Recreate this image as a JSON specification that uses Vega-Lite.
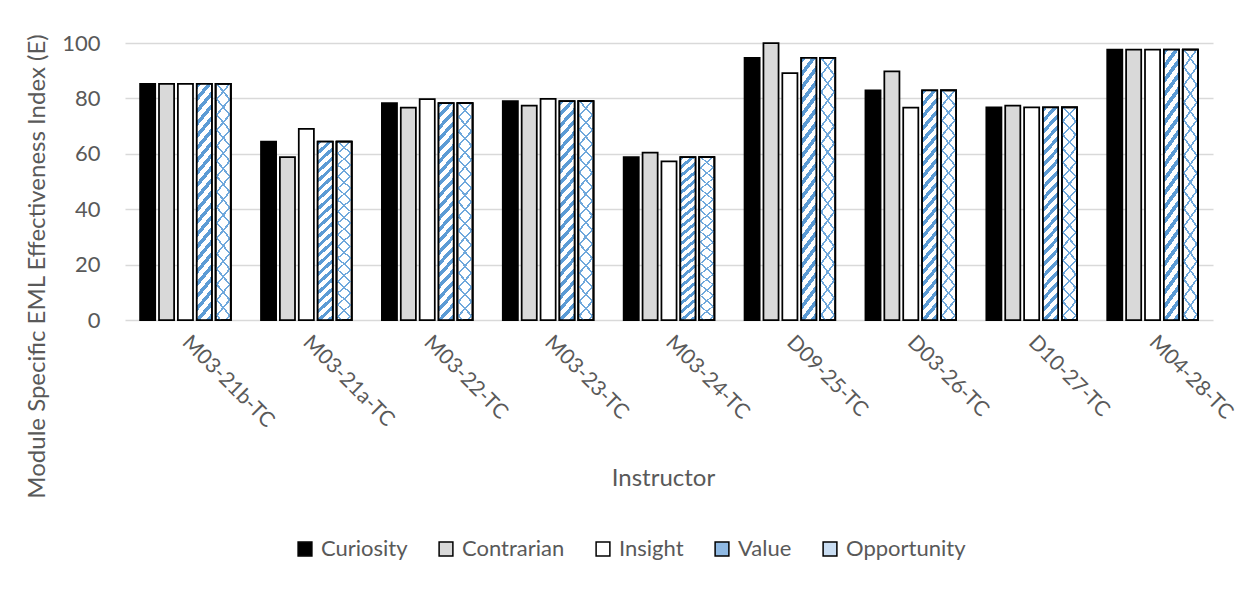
{
  "$schema": "https://vega.github.io/schema/vega-lite/v6.json",
  "autosize": {"type": "none"},
  "padding": {"left": 125, "top": 43, "right": 36, "bottom": 270},
  "width": 1088,
  "height": 277,
  "background": "white",
  "config": {"font": "Lato", "view": {"stroke": null}},
  "data": {"values": [
    {"Instructor": "M03-21b-TC", "Trait": "Curiosity", "E": 85.2},
    {"Instructor": "M03-21b-TC", "Trait": "Contrarian", "E": 85.2},
    {"Instructor": "M03-21b-TC", "Trait": "Insight", "E": 85.2},
    {"Instructor": "M03-21b-TC", "Trait": "Value", "E": 85.2},
    {"Instructor": "M03-21b-TC", "Trait": "Opportunity", "E": 85.2},
    {"Instructor": "M03-21a-TC", "Trait": "Curiosity", "E": 64.4},
    {"Instructor": "M03-21a-TC", "Trait": "Contrarian", "E": 58.8},
    {"Instructor": "M03-21a-TC", "Trait": "Insight", "E": 69.0},
    {"Instructor": "M03-21a-TC", "Trait": "Value", "E": 64.4},
    {"Instructor": "M03-21a-TC", "Trait": "Opportunity", "E": 64.4},
    {"Instructor": "M03-22-TC", "Trait": "Curiosity", "E": 78.3},
    {"Instructor": "M03-22-TC", "Trait": "Contrarian", "E": 76.7},
    {"Instructor": "M03-22-TC", "Trait": "Insight", "E": 79.7},
    {"Instructor": "M03-22-TC", "Trait": "Value", "E": 78.3},
    {"Instructor": "M03-22-TC", "Trait": "Opportunity", "E": 78.3},
    {"Instructor": "M03-23-TC", "Trait": "Curiosity", "E": 79.0},
    {"Instructor": "M03-23-TC", "Trait": "Contrarian", "E": 77.4},
    {"Instructor": "M03-23-TC", "Trait": "Insight", "E": 79.8},
    {"Instructor": "M03-23-TC", "Trait": "Value", "E": 79.0},
    {"Instructor": "M03-23-TC", "Trait": "Opportunity", "E": 79.0},
    {"Instructor": "M03-24-TC", "Trait": "Curiosity", "E": 58.8},
    {"Instructor": "M03-24-TC", "Trait": "Contrarian", "E": 60.4},
    {"Instructor": "M03-24-TC", "Trait": "Insight", "E": 57.3},
    {"Instructor": "M03-24-TC", "Trait": "Value", "E": 58.8},
    {"Instructor": "M03-24-TC", "Trait": "Opportunity", "E": 58.8},
    {"Instructor": "D09-25-TC", "Trait": "Curiosity", "E": 94.6},
    {"Instructor": "D09-25-TC", "Trait": "Contrarian", "E": 100},
    {"Instructor": "D09-25-TC", "Trait": "Insight", "E": 89.1},
    {"Instructor": "D09-25-TC", "Trait": "Value", "E": 94.6},
    {"Instructor": "D09-25-TC", "Trait": "Opportunity", "E": 94.6},
    {"Instructor": "D03-26-TC", "Trait": "Curiosity", "E": 82.9},
    {"Instructor": "D03-26-TC", "Trait": "Contrarian", "E": 89.8},
    {"Instructor": "D03-26-TC", "Trait": "Insight", "E": 76.7},
    {"Instructor": "D03-26-TC", "Trait": "Value", "E": 82.9},
    {"Instructor": "D03-26-TC", "Trait": "Opportunity", "E": 82.9},
    {"Instructor": "D10-27-TC", "Trait": "Curiosity", "E": 76.8},
    {"Instructor": "D10-27-TC", "Trait": "Contrarian", "E": 77.4},
    {"Instructor": "D10-27-TC", "Trait": "Insight", "E": 76.8},
    {"Instructor": "D10-27-TC", "Trait": "Value", "E": 76.8},
    {"Instructor": "D10-27-TC", "Trait": "Opportunity", "E": 76.8},
    {"Instructor": "M04-28-TC", "Trait": "Curiosity", "E": 97.6},
    {"Instructor": "M04-28-TC", "Trait": "Contrarian", "E": 97.6},
    {"Instructor": "M04-28-TC", "Trait": "Insight", "E": 97.6},
    {"Instructor": "M04-28-TC", "Trait": "Value", "E": 97.6},
    {"Instructor": "M04-28-TC", "Trait": "Opportunity", "E": 97.6}
  ]},
  "encoding": {
    "x": {
      "field": "Instructor", "type": "nominal",
      "sort": ["M03-21b-TC","M03-21a-TC","M03-22-TC","M03-23-TC","M03-24-TC","D09-25-TC","D03-26-TC","D10-27-TC","M04-28-TC"],
      "scale": {"paddingInner": 0.25, "paddingOuter": 0.125},
      "axis": {
        "title": "Instructor", "titleFontSize": 24, "titleFontWeight": "normal", "titleColor": "#595959",
        "titleX": 538, "titleY": 158, "titleAlign": "center", "titleBaseline": "middle",
        "labelAngle": 45, "labelAlign": "left", "labelBaseline": "middle", "labelPadding": 19,
        "labelFontSize": 21, "labelColor": "#595959", "ticks": false, "domain": false, "grid": false
      }
    },
    "xOffset": {
      "field": "Trait", "type": "nominal",
      "scale": {"domain": ["Curiosity","Contrarian","Insight","Value","Opportunity"], "paddingInner": 0.2, "paddingOuter": 0}
    },
    "y": {
      "field": "E", "type": "quantitative",
      "scale": {"domain": [0, 100], "nice": false},
      "axis": {
        "title": "Module Specific EML Effectiveness Index (E)", "titleFontSize": 24, "titleFontWeight": "normal", "titleColor": "#595959",
        "titleX": -88, "titleY": 223, "titleAngle": -90, "titleAlign": "center", "titleBaseline": "middle",
        "values": [0, 20, 40, 60, 80, 100], "labelFontSize": 22, "labelColor": "#595959", "labelPadding": 25,
        "ticks": false, "domain": false, "grid": true, "gridColor": "#d9d9d9", "gridWidth": 1.5
      }
    }
  },
  "layer": [
    {
      "mark": {"type": "bar", "stroke": "black", "strokeWidth": 1.75, "opacity": 1, "fillOpacity": 1},
      "encoding": {
        "fill": {
          "field": "Trait", "type": "nominal",
          "scale": {
            "domain": ["Curiosity","Contrarian","Insight","Value","Opportunity"],
            "range": ["#000000", "#d9d9d9", "#ffffff", "#8fb9e3", "#c9ddf2"]
          },
          "legend": {
            "title": null, "orient": "none", "legendX": 169, "legendY": 495, "direction": "horizontal",
            "symbolType": "square", "symbolSize": 190, "symbolStrokeColor": "black", "symbolStrokeWidth": 1.5, "symbolOpacity": 1,
            "labelFontSize": 22, "labelColor": "#595959", "labelOffset": 5, "columnPadding": 27, "padding": 0
          }
        }
      }
    },
    {
      "transform": [{"filter": "datum.Trait === 'Value'"}],
      "mark": {"type": "bar", "stroke": "black", "strokeWidth": 1.75,
        "fill": {"gradient": "linear", "x1": 0, "y1": 0, "x2": 1, "y2": 13, "stops": [
                {"offset":0,"color":"#5b9bd5"},{"offset":0.0018,"color":"#5b9bd5"},{"offset":0.0018,"color":"#ffffff"},{"offset":0.004,"color":"#ffffff"},
                {"offset":0.004,"color":"#5b9bd5"},{"offset":0.0058,"color":"#5b9bd5"},{"offset":0.0058,"color":"#ffffff"},{"offset":0.008,"color":"#ffffff"},
                {"offset":0.008,"color":"#5b9bd5"},{"offset":0.0098,"color":"#5b9bd5"},{"offset":0.0098,"color":"#ffffff"},{"offset":0.012,"color":"#ffffff"},
                {"offset":0.012,"color":"#5b9bd5"},{"offset":0.0138,"color":"#5b9bd5"},{"offset":0.0138,"color":"#ffffff"},{"offset":0.016,"color":"#ffffff"},
                {"offset":0.016,"color":"#5b9bd5"},{"offset":0.0178,"color":"#5b9bd5"},{"offset":0.0178,"color":"#ffffff"},{"offset":0.02,"color":"#ffffff"},
                {"offset":0.02,"color":"#5b9bd5"},{"offset":0.0218,"color":"#5b9bd5"},{"offset":0.0218,"color":"#ffffff"},{"offset":0.024,"color":"#ffffff"},
                {"offset":0.024,"color":"#5b9bd5"},{"offset":0.0258,"color":"#5b9bd5"},{"offset":0.0258,"color":"#ffffff"},{"offset":0.028,"color":"#ffffff"},
                {"offset":0.028,"color":"#5b9bd5"},{"offset":0.0298,"color":"#5b9bd5"},{"offset":0.0298,"color":"#ffffff"},{"offset":0.032,"color":"#ffffff"},
                {"offset":0.032,"color":"#5b9bd5"},{"offset":0.0338,"color":"#5b9bd5"},{"offset":0.0338,"color":"#ffffff"},{"offset":0.036,"color":"#ffffff"},
                {"offset":0.036,"color":"#5b9bd5"},{"offset":0.0378,"color":"#5b9bd5"},{"offset":0.0378,"color":"#ffffff"},{"offset":0.04,"color":"#ffffff"},
                {"offset":0.04,"color":"#5b9bd5"},{"offset":0.0418,"color":"#5b9bd5"},{"offset":0.0418,"color":"#ffffff"},{"offset":0.044,"color":"#ffffff"},
                {"offset":0.044,"color":"#5b9bd5"},{"offset":0.0458,"color":"#5b9bd5"},{"offset":0.0458,"color":"#ffffff"},{"offset":0.048,"color":"#ffffff"},
                {"offset":0.048,"color":"#5b9bd5"},{"offset":0.0498,"color":"#5b9bd5"},{"offset":0.0498,"color":"#ffffff"},{"offset":0.052,"color":"#ffffff"},
                {"offset":0.052,"color":"#5b9bd5"},{"offset":0.0538,"color":"#5b9bd5"},{"offset":0.0538,"color":"#ffffff"},{"offset":0.056,"color":"#ffffff"},
                {"offset":0.056,"color":"#5b9bd5"},{"offset":0.0578,"color":"#5b9bd5"},{"offset":0.0578,"color":"#ffffff"},{"offset":0.06,"color":"#ffffff"},
                {"offset":0.06,"color":"#5b9bd5"},{"offset":0.0618,"color":"#5b9bd5"},{"offset":0.0618,"color":"#ffffff"},{"offset":0.064,"color":"#ffffff"},
                {"offset":0.064,"color":"#5b9bd5"},{"offset":0.0658,"color":"#5b9bd5"},{"offset":0.0658,"color":"#ffffff"},{"offset":0.068,"color":"#ffffff"},
                {"offset":0.068,"color":"#5b9bd5"},{"offset":0.0698,"color":"#5b9bd5"},{"offset":0.0698,"color":"#ffffff"},{"offset":0.072,"color":"#ffffff"},
                {"offset":0.072,"color":"#5b9bd5"},{"offset":0.0738,"color":"#5b9bd5"},{"offset":0.0738,"color":"#ffffff"},{"offset":0.076,"color":"#ffffff"},
                {"offset":0.076,"color":"#5b9bd5"},{"offset":0.0778,"color":"#5b9bd5"},{"offset":0.0778,"color":"#ffffff"},{"offset":0.08,"color":"#ffffff"},
                {"offset":0.08,"color":"#5b9bd5"},{"offset":0.0818,"color":"#5b9bd5"},{"offset":0.0818,"color":"#ffffff"},{"offset":0.084,"color":"#ffffff"},
                {"offset":0.084,"color":"#5b9bd5"},{"offset":0.0858,"color":"#5b9bd5"},{"offset":0.0858,"color":"#ffffff"},{"offset":1,"color":"#ffffff"}
        ]}
      },
      "encoding": {}
    },
    {
      "transform": [{"filter": "datum.Trait === 'Opportunity'"}],
      "mark": {"type": "bar", "stroke": "black", "strokeWidth": 1.75,
        "fill": {"gradient": "linear", "x1": 0, "y1": 0, "x2": 1, "y2": 13, "stops": [
                {"offset":0,"color":"#6fa8dc"},{"offset":0.0008,"color":"#6fa8dc"},{"offset":0.0008,"color":"#ffffff"},{"offset":0.005,"color":"#ffffff"},
                {"offset":0.005,"color":"#6fa8dc"},{"offset":0.0058,"color":"#6fa8dc"},{"offset":0.0058,"color":"#ffffff"},{"offset":0.01,"color":"#ffffff"},
                {"offset":0.01,"color":"#6fa8dc"},{"offset":0.0108,"color":"#6fa8dc"},{"offset":0.0108,"color":"#ffffff"},{"offset":0.015,"color":"#ffffff"},
                {"offset":0.015,"color":"#6fa8dc"},{"offset":0.0158,"color":"#6fa8dc"},{"offset":0.0158,"color":"#ffffff"},{"offset":0.02,"color":"#ffffff"},
                {"offset":0.02,"color":"#6fa8dc"},{"offset":0.0208,"color":"#6fa8dc"},{"offset":0.0208,"color":"#ffffff"},{"offset":0.025,"color":"#ffffff"},
                {"offset":0.025,"color":"#6fa8dc"},{"offset":0.0258,"color":"#6fa8dc"},{"offset":0.0258,"color":"#ffffff"},{"offset":0.03,"color":"#ffffff"},
                {"offset":0.03,"color":"#6fa8dc"},{"offset":0.0308,"color":"#6fa8dc"},{"offset":0.0308,"color":"#ffffff"},{"offset":0.035,"color":"#ffffff"},
                {"offset":0.035,"color":"#6fa8dc"},{"offset":0.0358,"color":"#6fa8dc"},{"offset":0.0358,"color":"#ffffff"},{"offset":0.04,"color":"#ffffff"},
                {"offset":0.04,"color":"#6fa8dc"},{"offset":0.0408,"color":"#6fa8dc"},{"offset":0.0408,"color":"#ffffff"},{"offset":0.045,"color":"#ffffff"},
                {"offset":0.045,"color":"#6fa8dc"},{"offset":0.0458,"color":"#6fa8dc"},{"offset":0.0458,"color":"#ffffff"},{"offset":0.05,"color":"#ffffff"},
                {"offset":0.05,"color":"#6fa8dc"},{"offset":0.0508,"color":"#6fa8dc"},{"offset":0.0508,"color":"#ffffff"},{"offset":0.055,"color":"#ffffff"},
                {"offset":0.055,"color":"#6fa8dc"},{"offset":0.0558,"color":"#6fa8dc"},{"offset":0.0558,"color":"#ffffff"},{"offset":0.06,"color":"#ffffff"},
                {"offset":0.06,"color":"#6fa8dc"},{"offset":0.0608,"color":"#6fa8dc"},{"offset":0.0608,"color":"#ffffff"},{"offset":0.065,"color":"#ffffff"},
                {"offset":0.065,"color":"#6fa8dc"},{"offset":0.0658,"color":"#6fa8dc"},{"offset":0.0658,"color":"#ffffff"},{"offset":0.07,"color":"#ffffff"},
                {"offset":0.07,"color":"#6fa8dc"},{"offset":0.0708,"color":"#6fa8dc"},{"offset":0.0708,"color":"#ffffff"},{"offset":0.075,"color":"#ffffff"},
                {"offset":0.075,"color":"#6fa8dc"},{"offset":0.0758,"color":"#6fa8dc"},{"offset":0.0758,"color":"#ffffff"},{"offset":0.08,"color":"#ffffff"},
                {"offset":0.08,"color":"#6fa8dc"},{"offset":0.0808,"color":"#6fa8dc"},{"offset":0.0808,"color":"#ffffff"},{"offset":0.085,"color":"#ffffff"},
                {"offset":0.085,"color":"#6fa8dc"},{"offset":0.0858,"color":"#6fa8dc"},{"offset":0.0858,"color":"#ffffff"},{"offset":1,"color":"#ffffff"}
        ]}
      },
      "encoding": {}
    },
    {
      "transform": [{"filter": "datum.Trait === 'Opportunity'"}],
      "mark": {"type": "bar", "stroke": "black", "strokeWidth": 1.75,
        "fill": {"gradient": "linear", "x1": 1, "y1": 0, "x2": 0, "y2": 13, "stops": [
          {"offset":0,"color":"#6fa8dc"},{"offset":0.0008,"color":"#6fa8dc"},{"offset":0.0008,"color":"rgba(255,255,255,0)"},{"offset":0.005,"color":"rgba(255,255,255,0)"},
          {"offset":0.005,"color":"#6fa8dc"},{"offset":0.0058,"color":"#6fa8dc"},{"offset":0.0058,"color":"rgba(255,255,255,0)"},{"offset":0.01,"color":"rgba(255,255,255,0)"},
          {"offset":0.01,"color":"#6fa8dc"},{"offset":0.0108,"color":"#6fa8dc"},{"offset":0.0108,"color":"rgba(255,255,255,0)"},{"offset":0.015,"color":"rgba(255,255,255,0)"},
          {"offset":0.015,"color":"#6fa8dc"},{"offset":0.0158,"color":"#6fa8dc"},{"offset":0.0158,"color":"rgba(255,255,255,0)"},{"offset":0.02,"color":"rgba(255,255,255,0)"},
          {"offset":0.02,"color":"#6fa8dc"},{"offset":0.0208,"color":"#6fa8dc"},{"offset":0.0208,"color":"rgba(255,255,255,0)"},{"offset":0.025,"color":"rgba(255,255,255,0)"},
          {"offset":0.025,"color":"#6fa8dc"},{"offset":0.0258,"color":"#6fa8dc"},{"offset":0.0258,"color":"rgba(255,255,255,0)"},{"offset":0.03,"color":"rgba(255,255,255,0)"},
          {"offset":0.03,"color":"#6fa8dc"},{"offset":0.0308,"color":"#6fa8dc"},{"offset":0.0308,"color":"rgba(255,255,255,0)"},{"offset":0.035,"color":"rgba(255,255,255,0)"},
          {"offset":0.035,"color":"#6fa8dc"},{"offset":0.0358,"color":"#6fa8dc"},{"offset":0.0358,"color":"rgba(255,255,255,0)"},{"offset":0.04,"color":"rgba(255,255,255,0)"},
          {"offset":0.04,"color":"#6fa8dc"},{"offset":0.0408,"color":"#6fa8dc"},{"offset":0.0408,"color":"rgba(255,255,255,0)"},{"offset":0.045,"color":"rgba(255,255,255,0)"},
          {"offset":0.045,"color":"#6fa8dc"},{"offset":0.0458,"color":"#6fa8dc"},{"offset":0.0458,"color":"rgba(255,255,255,0)"},{"offset":0.05,"color":"rgba(255,255,255,0)"},
          {"offset":0.05,"color":"#6fa8dc"},{"offset":0.0508,"color":"#6fa8dc"},{"offset":0.0508,"color":"rgba(255,255,255,0)"},{"offset":0.055,"color":"rgba(255,255,255,0)"},
          {"offset":0.055,"color":"#6fa8dc"},{"offset":0.0558,"color":"#6fa8dc"},{"offset":0.0558,"color":"rgba(255,255,255,0)"},{"offset":0.06,"color":"rgba(255,255,255,0)"},
          {"offset":0.06,"color":"#6fa8dc"},{"offset":0.0608,"color":"#6fa8dc"},{"offset":0.0608,"color":"rgba(255,255,255,0)"},{"offset":0.065,"color":"rgba(255,255,255,0)"},
          {"offset":0.065,"color":"#6fa8dc"},{"offset":0.0658,"color":"#6fa8dc"},{"offset":0.0658,"color":"rgba(255,255,255,0)"},{"offset":0.07,"color":"rgba(255,255,255,0)"},
          {"offset":0.07,"color":"#6fa8dc"},{"offset":0.0708,"color":"#6fa8dc"},{"offset":0.0708,"color":"rgba(255,255,255,0)"},{"offset":0.075,"color":"rgba(255,255,255,0)"},
          {"offset":0.075,"color":"#6fa8dc"},{"offset":0.0758,"color":"#6fa8dc"},{"offset":0.0758,"color":"rgba(255,255,255,0)"},{"offset":0.08,"color":"rgba(255,255,255,0)"},
          {"offset":0.08,"color":"#6fa8dc"},{"offset":0.0808,"color":"#6fa8dc"},{"offset":0.0808,"color":"rgba(255,255,255,0)"},{"offset":0.085,"color":"rgba(255,255,255,0)"},
          {"offset":0.085,"color":"#6fa8dc"},{"offset":0.0858,"color":"#6fa8dc"},{"offset":0.0858,"color":"rgba(255,255,255,0)"},{"offset":1,"color":"rgba(255,255,255,0)"}
        ]}
      },
      "encoding": {}
    }
  ]
}
